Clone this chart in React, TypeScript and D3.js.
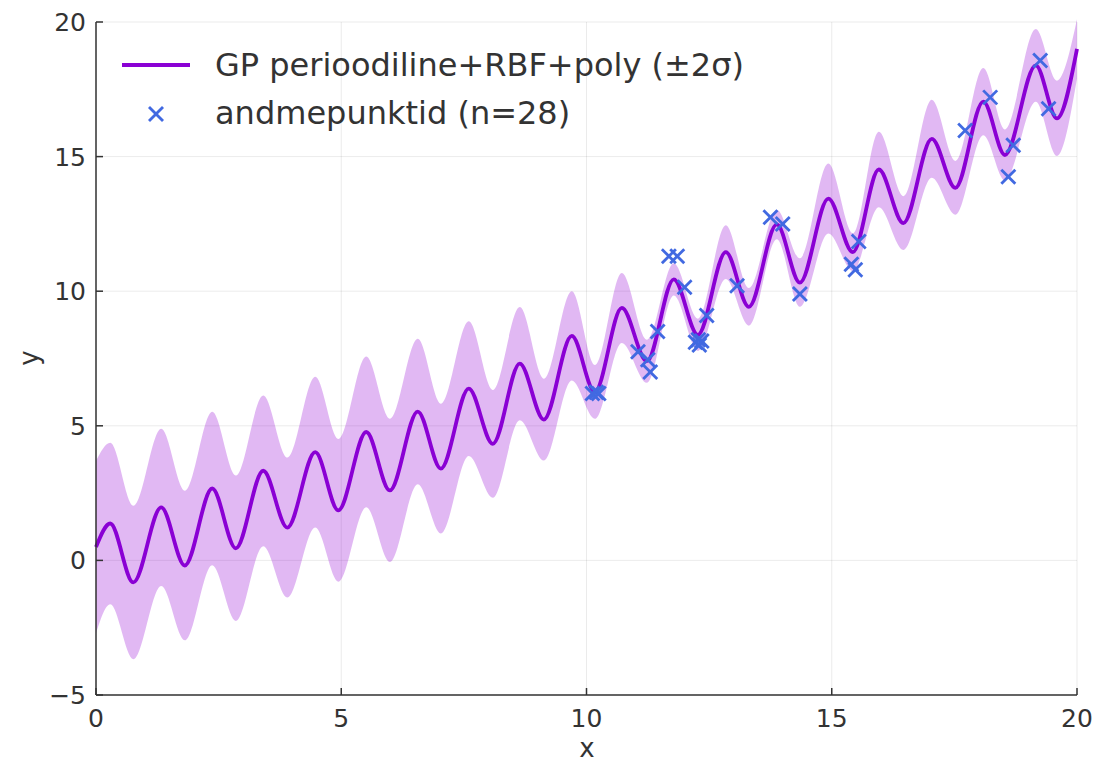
import React from "react";
import * as d3 from "d3";

// Extrema of the GP posterior mean
const meanX = [0, 0.29, 0.76, 1.33, 1.81, 2.37, 2.85, 3.41, 3.9, 4.47, 4.94, 5.51, 5.99, 6.56, 7.03, 7.6, 8.09, 8.64, 9.13, 9.7, 10.17, 10.72, 11.23, 11.78, 12.27, 12.84, 13.31, 13.88, 14.35, 14.93, 15.43, 15.96, 16.46, 17.04, 17.52, 18.09, 18.53, 19.16, 19.59, 20];
const meanY = [0.5, 1.37, -0.82, 1.97, -0.19, 2.67, 0.45, 3.33, 1.22, 4.02, 1.86, 4.77, 2.6, 5.53, 3.41, 6.38, 4.33, 7.31, 5.23, 8.34, 6.26, 9.38, 7.4, 10.44, 8.38, 11.45, 9.42, 12.48, 10.32, 13.44, 11.45, 14.52, 12.53, 15.66, 13.84, 17.04, 15.06, 18.39, 16.42, 19.0];
// Half-width of the ±2σ band at the same x positions
const band2s = [3.2, 3.0, 2.85, 2.92, 2.78, 2.85, 2.7, 2.8, 2.6, 2.8, 2.65, 2.8, 2.66, 2.7, 2.41, 2.5, 2.0, 2.1, 1.52, 1.66, 1.0, 1.3, 0.8, 0.6, 0.6, 1.0, 0.7, 0.55, 0.9, 1.3, 0.7, 1.4, 1.0, 1.45, 1.0, 1.25, 0.95, 1.35, 1.4, 1.1];

// Observations (n = 28)
const obsX = [10.12, 10.2, 10.25, 11.05, 11.25, 11.3, 11.45, 11.68, 11.85, 12.0, 12.22, 12.28, 12.3, 12.35, 12.45, 13.07, 13.75, 14.0, 14.35, 15.4, 15.48, 15.55, 17.72, 18.23, 18.6, 18.7, 19.25, 19.42];
const obsY = [6.2, 6.25, 6.2, 7.75, 7.45, 7.0, 8.5, 11.3, 11.3, 10.15, 8.1, 8.2, 8.0, 8.15, 9.1, 10.2, 12.75, 12.5, 9.9, 11.0, 10.8, 11.85, 15.97, 17.2, 14.25, 15.42, 18.57, 16.78];

const xTicks = [0, 5, 10, 15, 20];
const yTicks = [-5, 0, 5, 10, 15, 20];
const legendLabels = ["GP perioodiline+RBF+poly (±2σ)", "andmepunktid (n=28)"];

const W = 1099;
const H = 767;
const FONT = "DejaVu Sans, sans-serif";
const LINE_COLOR = "#8a00d4";
const BAND_COLOR = "#9400d3";
const DOT_COLOR = "#4169e1";

export default function App() {
  const x = d3.scaleLinear().domain([0, 20]).range([96, 1077]);
  const y = d3.scaleLinear().domain([-5, 20]).range([695, 22]);

  const pts = meanX.map((v, i) => ({ x: v, m: meanY[i], s: band2s[i] }));
  const area = d3
    .area<{ x: number; m: number; s: number }>()
    .x((d) => x(d.x))
    .y0((d) => y(d.m - d.s))
    .y1((d) => y(d.m + d.s))
    .curve(d3.curveMonotoneX);
  const line = d3
    .line<{ x: number; m: number; s: number }>()
    .x((d) => x(d.x))
    .y((d) => y(d.m))
    .curve(d3.curveMonotoneX);

  const cross = (cx: number, cy: number, r: number, key: string | number) => (
    <g key={key} stroke={DOT_COLOR} strokeWidth={2.8} strokeLinecap="butt">
      <line x1={cx - r} y1={cy - r} x2={cx + r} y2={cy + r} />
      <line x1={cx - r} y1={cy + r} x2={cx + r} y2={cy - r} />
    </g>
  );

  return (
    <svg
      width={W}
      height={H}
      style={{ position: "absolute", left: 0, top: 0, background: "#fff" }}
      fontFamily={FONT}
    >
      <rect width={W} height={H} fill="#fff" />
      {/* grid */}
      <g stroke="#000" strokeOpacity={0.08} strokeWidth={1}>
        {xTicks.map((t) => (
          <line key={"gx" + t} x1={x(t)} x2={x(t)} y1={y(-5)} y2={y(20)} />
        ))}
        {yTicks.map((t) => (
          <line key={"gy" + t} x1={x(0)} x2={x(20)} y1={y(t)} y2={y(t)} />
        ))}
      </g>
      {/* band */}
      <path d={area(pts) || ""} fill={BAND_COLOR} fillOpacity={0.28} stroke="none" />
      {/* mean */}
      <path d={line(pts) || ""} fill="none" stroke={LINE_COLOR} strokeWidth={3.8} />
      {/* observations */}
      {obsX.map((v, i) => cross(x(v), y(obsY[i]), 7, i))}
      {/* axes */}
      <g stroke="#333" strokeWidth={1.5}>
        <line x1={x(0)} x2={x(20)} y1={y(-5)} y2={y(-5)} />
        <line x1={x(0)} x2={x(0)} y1={y(-5)} y2={y(20)} />
        {xTicks.map((t) => (
          <line key={"tx" + t} x1={x(t)} x2={x(t)} y1={y(-5)} y2={y(-5) - 7} />
        ))}
        {yTicks.map((t) => (
          <line key={"ty" + t} x1={x(0)} x2={x(0) + 7} y1={y(t)} y2={y(t)} />
        ))}
      </g>
      {/* tick labels */}
      <g fill="#333" fontSize={25}>
        {xTicks.map((t) => (
          <text key={"lx" + t} x={x(t)} y={727} textAnchor="middle">
            {String(t)}
          </text>
        ))}
        {yTicks.map((t) => (
          <text key={"ly" + t} x={86} y={y(t) + 9} textAnchor="end">
            {t < 0 ? "\u2212" + Math.abs(t) : String(t)}
          </text>
        ))}
      </g>
      {/* axis labels */}
      <text x={587} y={757} textAnchor="middle" fontSize={26} fill="#333">
        x
      </text>
      <text
        x={0}
        y={0}
        transform={`translate(38,358) rotate(-90)`}
        textAnchor="middle"
        fontSize={26}
        fill="#333"
      >
        y
      </text>
      {/* legend */}
      <line x1={122} x2={190} y1={65} y2={65} stroke={LINE_COLOR} strokeWidth={3.8} />
      {cross(156, 114, 7, "leg")}
      <g fontSize={32} fill="#333">
        <text x={215} y={76}>
          {legendLabels[0]}
        </text>
        <text x={215} y={124}>
          {legendLabels[1]}
        </text>
      </g>
    </svg>
  );
}
